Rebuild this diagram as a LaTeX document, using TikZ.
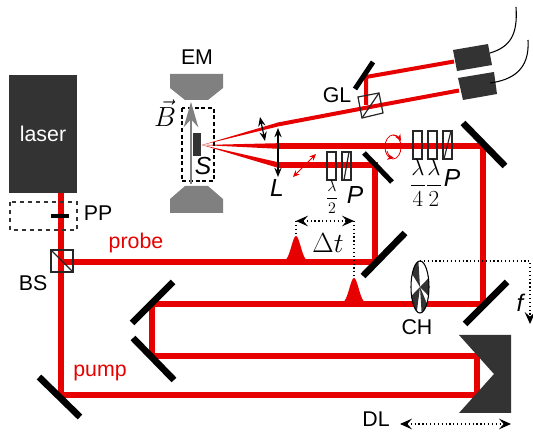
\documentclass[tikz,border=0pt]{standalone}
\usepackage{fontspec}
\setmainfont{Liberation Sans}
\usetikzlibrary{positioning, arrows.meta}
\definecolor{beamred}{RGB}{230,0,0}
\definecolor{darkpart}{RGB}{51,51,51}
\definecolor{magnetgray}{RGB}{128,128,128}
\tikzset{
  beam/.style={draw=beamred, line width=4.1pt},
  thinbeam/.style={draw=beamred, line width=3pt},
  mirror/.style={draw=black, line width=5pt},
  plate/.style={draw=black!85, line width=0.9pt},
  lab/.style={font=\fontsize{16}{18}\selectfont, inner sep=0pt},
  slab/.style={font=\fontsize{18.5}{22}\selectfont\itshape, inner sep=0pt},
  redlab/.style={lab, text=beamred},
  dotline/.style={draw=black, line width=0.9pt, dotted},
  tips/.style={{Stealth[length=9pt,width=8pt,inset=3.5pt]}-{Stealth[length=9pt,width=8pt,inset=3.5pt]}},
  smalltips/.style={{Stealth[length=7pt,width=5.5pt,inset=2.5pt]}-{Stealth[length=7pt,width=5.5pt,inset=2.5pt]}},
  polarrow/.style={draw=beamred, line width=0.7pt, {Stealth[length=5pt,width=4.5pt]}-{Stealth[length=5pt,width=4.5pt]}}
}
\begin{document}
\begin{tikzpicture}[x=0.75pt, y=-0.75pt]
    \useasboundingbox (0,0) rectangle (533,434);

    % Beam corners
    \coordinate (laserout) at (61,193);
    \coordinate (pumpm) at (61,395);
    \coordinate (dl1) at (477,395);
    \coordinate (dl2) at (477,356);
    \coordinate (fold1) at (152,356);
    \coordinate (fold2) at (152,304);
    \coordinate (pumpr) at (483,304);
    \coordinate (pumpt) at (483,146);
    \coordinate (lens) at (278,146);
    \coordinate (probel) at (61,262);
    \coordinate (prober) at (375,262);
    \coordinate (probet) at (375,165);
    \coordinate (lensl) at (278,165);
    \coordinate (sfocus) at (202,145);
    \coordinate (lensu) at (278,124.5);
    \coordinate (glin) at (370,107);
    \coordinate (det2) at (459,90.5);
    \coordinate (gl2) at (366,105);
    \coordinate (gl3) at (366,77);
    \coordinate (det1) at (454,61.5);

    % Draw the beams
    \draw[beam] (laserout) -- (pumpm) -- (dl1) -- (dl2) -- (fold1) -- (fold2) -- (pumpr) -- (pumpt) -- (lens);
    \draw[beam] (probel) -- (prober) -- (probet) -- (lensl);
    \draw[thinbeam] (lensu) -- (glin) -- (det2);
    \draw[thinbeam] (gl2) -- (gl3) -- (det1);
    \fill[beamred] (sfocus) -- (278,143.2) -- (278,148.8) -- cycle;
    \fill[beamred] (sfocus) -- (278,162.2) -- (278,167.8) -- cycle;
    \fill[beamred] (sfocus) -- (278,122.5) -- (278,126.5) -- cycle;

    % Draw the pulses
    \fill[beamred, domain=281:311, samples=31] plot (\x, {262-26*exp(-((\x-296)/6.5)^2)}) -- cycle;
    \fill[beamred, domain=339:369, samples=31] plot (\x, {304-26*exp(-((\x-354)/6.5)^2)}) -- cycle;

    % Draw the laser and the pulse picker
    \node[fill=darkpart, minimum width=51pt, minimum height=88.5pt, inner sep=0pt, text=white, font=\fontsize{16}{18}\selectfont] (laser) at (43,134) {laser};
    \draw[draw=darkpart, line width=1.2pt, dashed] (10,202) rectangle (77,230);
    \draw[draw=black, line width=3.6pt] (51,216) -- (69,216);
    \node[lab] (pp) at (98,213) {PP};

    % Draw the beam splitter
    \draw[plate] (51,250) rectangle (73,272);
    \draw[plate] (51,250) -- (73,272);
    \node[lab] (bs) at (33,283) {BS};
    \node[redlab] (probe) at (136,243) {probe};
    \node[redlab] (pump) at (100,373) {pump};

    % Draw the mirrors
    \draw[mirror] (39,377) -- (80,417);
    \draw[mirror] (132,323) -- (173,282);
    \draw[mirror] (133,338) -- (174,380);
    \draw[mirror] (465,324) -- (507,282);
    \draw[mirror] (363,276) -- (405,233);
    \draw[mirror] (463,123) -- (505,166);
    \draw[mirror, line width=3.8pt] (364,153) -- (392,182);
    \draw[mirror, line width=3.8pt] (355,89) -- (373,62);

    % Draw the delay line
    \fill[darkpart] (459,335) -- (511,335) -- (511,413) -- (459,413) -- (494,374) -- cycle;
    \node[lab] (dl) at (376,419) {DL};
    \draw[dotline, tips] (400,424) -- (511,424);

    % Draw the chopper
    \begin{scope}
        \clip (420,287) ellipse [x radius=9, y radius=26];
        \fill[white] (411,261) rectangle (429,313);
        \foreach \a/\b in {100/150, 340/20, 200/250, 280/320} {
            \fill[darkpart] (420,287) -- ({420+14*cos(\a)},{287-40*sin(\a)}) -- ({420+14*cos(\b)},{287-40*sin(\b)}) -- cycle;
        }
    \end{scope}
    \draw[black, line width=0.8pt] (420,287) ellipse [x radius=9, y radius=26];
    \node[lab] (ch) at (417,327) {CH};
    \coordinate (chtop) at (420,261);
    \coordinate (fcorner) at (530,261);
    \coordinate (fend) at (530,324);
    \draw[dotline, -{Stealth[length=9pt,width=8pt,inset=3.5pt]}] (chtop) -- (fcorner) -- (fend);
    \node[lab, font=\fontsize{18}{20}\selectfont] (f) at (521,303) {\textit{f}};

    % Draw the delay marks
    \coordinate (dt1) at (296,221);
    \coordinate (dt2) at (354,221);
    \draw[dotline] (dt1) -- (296,236);
    \draw[dotline] (dt2) -- (354,278);
    \draw[dotline, tips] (dt1) -- (dt2);
    \node[inner sep=0pt, font=\fontsize{21}{25}\selectfont] (dtlab) at (328,243) {$\Delta t$};

    % Draw the magnet and the sample
    \fill[magnetgray] (170,74) -- (223,74) -- (223,88) -- (208,100) -- (185,100) -- (170,88) -- cycle;
    \fill[magnetgray] (170,213) -- (223,213) -- (223,199) -- (208,186) -- (185,186) -- (170,199) -- cycle;
    \node[lab] (em) at (197,57) {EM};
    \draw[black, line width=1pt, densely dashed] (182,108) rectangle (214,181);
    \fill[darkpart] (193,133) rectangle (201,156);
    \draw[magnetgray, line width=1pt, -{Stealth[length=19pt,width=11pt,inset=6pt]}] (191,184) -- (191,102);
    \node[inner sep=0pt, font=\fontsize{21}{24}\selectfont] (blab) at (165,113) {$\vec{B}$};
    \node[slab] (s) at (203,166) {S};

    % Draw the lenses
    \draw[black, line width=0.9pt, smalltips] (278,128) -- (278,177);
    \draw[black, line width=0.9pt, smalltips] (260,117) -- (265,141);
    \node[slab] (l) at (277,188) {L};

    % Draw the wave plates and the polarizers
    \draw[plate] (327,152) rectangle (336,180);
    \draw[plate] (342,152) rectangle (351,180);
    \draw[plate] (344,180) -- (349,152);
    \draw[plate] (413,131) rectangle (422,159);
    \draw[plate] (428,131) rectangle (437,159);
    \draw[plate] (443,131) rectangle (452,159);
    \draw[plate] (444,159) -- (451,131);
    \node[inner sep=0pt, font=\fontsize{13}{15}\selectfont] (frac1) at (332,197) {$\displaystyle\frac{\lambda}{2}$};
    \node[slab] (p1) at (355,195) {P};
    \node[inner sep=0pt, font=\fontsize{17}{19}\selectfont] (frac2) at (418,183) {$\displaystyle\frac{\lambda}{4}$};
    \node[inner sep=0pt, font=\fontsize{17}{19}\selectfont] (frac3) at (434,183) {$\displaystyle\frac{\lambda}{2}$};
    \node[slab] (p2) at (452,178) {P};

    % Draw the polarisation marks
    \draw[polarrow] (293,177) -- (316,154);
    \draw[draw=beamred, line width=0.6pt] (393,147) ellipse [x radius=8, y radius=12];
    \draw[draw=beamred, line width=0.6pt, -{Stealth[length=5pt,width=4.5pt]}] (393,135) to[out=0, in=120] (401,141);
    \draw[draw=beamred, line width=0.6pt, -{Stealth[length=5pt,width=4.5pt]}] (387,151) to[out=-70, in=170] (394,158);

    % Draw the analyser and the detectors
    \draw[plate] (358,97) -- (379,93) -- (383,113) -- (362,118) -- cycle;
    \draw[plate] (362,118) -- (379,93);
    \node[lab] (gl) at (337,95) {GL};
    \fill[darkpart] (453,50) -- (488,44) -- (492,65) -- (457,71) -- cycle;
    \fill[darkpart] (458,78) -- (494,72) -- (497,94) -- (463,100) -- cycle;
    \coordinate (cable1) at (490,53);
    \coordinate (cable1e) at (516,7);
    \coordinate (cable2) at (490,83);
    \coordinate (cable2e) at (528,40);
    \draw[black, line width=0.8pt] (cable1) .. controls (510,47) and (518,35) .. (cable1e);
    \draw[black, line width=0.8pt] (cable2) .. controls (512,80) and (530,70) .. (cable2e);
\end{tikzpicture}
\end{document}
